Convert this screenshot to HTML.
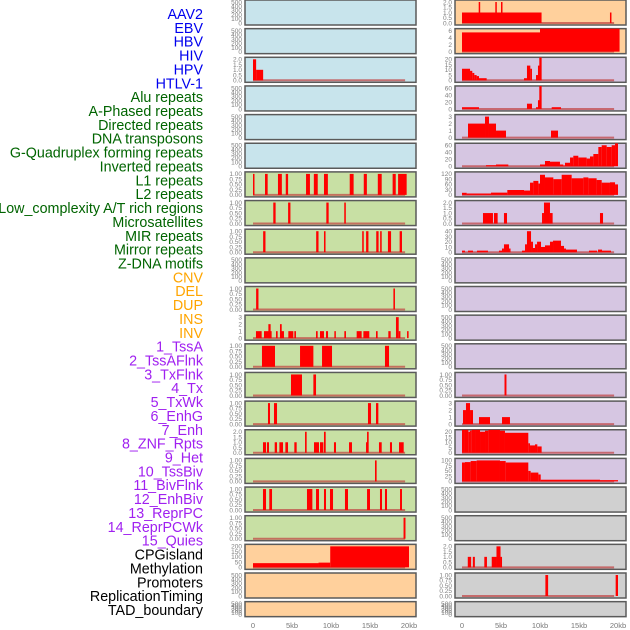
<!DOCTYPE html>
<html><head><meta charset="utf-8">
<style>
html,body{margin:0;padding:0;background:#fff;}
svg{display:block;font-family:"Liberation Sans",sans-serif;}
</style></head>
<body>
<svg id="chart" width="630" height="630" viewBox="0 0 630 630"></svg>
<script>
// ---- labels ----
const labelText = ["AAV2","EBV","HBV","HIV","HPV","HTLV-1","Alu repeats","A-Phased repeats","Directed repeats","DNA transposons","G-Quadruplex forming repeats","Inverted repeats","L1 repeats","L2 repeats","Low_complexity A/T rich regions","Microsatellites","MIR repeats","Mirror repeats","Z-DNA motifs","CNV","DEL","DUP","INS","INV","1_TssA","2_TssAFlnk","3_TxFlnk","4_Tx","5_TxWk","6_EnhG","7_Enh","8_ZNF_Rpts","9_Het","10_TssBiv","11_BivFlnk","12_EnhBiv","13_ReprPC","14_ReprPCWk","15_Quies","CPGisland","Methylation","Promoters","ReplicationTiming","TAD_boundary"];
const labelGroup = [0,0,0,0,0,0,1,1,1,1,1,1,1,1,1,1,1,1,1,2,2,2,2,2,3,3,3,3,3,3,3,3,3,3,3,3,3,3,3,4,4,4,4,4];
const groupColor = ["#0000ee","#006400","#ffa500","#a020f0","#000000"];

// ---- tick sets ----
const T500 = [0,100,200,300,400,500];
const T1 = [0,0.25,0.5,0.75,1.0];
const T2 = [0,0.5,1.0,1.5,2.0];
const T3 = [0,1,2,3];
const T6 = [0,2,4,6];
const T20 = [0,5,10,15,20];
const T60 = [0,20,40,60];
const T40 = [0,10,20,30,40];
const T120 = [0,30,60,90,120];
const T100 = [0,25,50,75,100];
const T200 = [0,50,100,150,200];

// ---- left column data [startKb, endKb, value] ----
const L_HIV = [[0,0.4,2],[0.4,1.3,1]];
const L_L1 = [[0,0.15,1],[1.54,1.88,1],[3.2,3.7,1],[4.2,4.5,1],[6.8,7.3,1],[7.8,8.3,1],[9.1,9.6,1],[12.4,12.9,1],[14.2,14.6,1],[16.0,16.5,1],[17.9,18.3,1],[18.6,19.7,1]];
const L_L2 = [[2.6,2.9,1],[4.5,4.8,1],[9.4,9.7,1],[11.7,11.9,1]];
const L_LC = [[1.3,1.6,1],[8.1,8.4,1],[9.1,9.3,1],[14.0,14.2,1],[14.5,14.8,1],[15.8,16.1,1],[16.3,16.5,1],[17.3,17.7,1],[18.8,19.1,1]];
const L_MIR = [[0.4,0.7,1],[18.0,18.2,1]];
const L_MIRROR = [[0.38,1.11,1],[1.41,2.39,1],[1.97,2.26,2],[2.95,3.16,1],[3.46,3.97,1],[3.46,3.68,2],[4.53,5.17,1],[5.3,5.51,1],[8.08,8.29,1],[8.59,9.1,1],[9.36,9.62,1],[10.43,10.6,1],[11.71,11.92,1],[13.29,13.93,1],[14.15,14.91,1],[15.77,15.98,1],[17.35,17.65,1],[18.33,18.68,3],[18.68,18.9,1],[19.75,19.95,1]];
const L_ZDNA = [[1.15,2.82,1],[6.03,7.74,1],[8.85,10.13,1],[16.92,17.44,1]];
const L_CNV = [[4.87,6.28,1],[7.74,8.08,1]];
const L_DEL = [[1.92,2.18,1],[2.69,3.08,1],[14.74,15.13,1],[15.77,16.07,1]];
const L_DUP = [[1.28,1.67,1],[1.79,2.05,1],[2.78,3.08,1],[3.38,3.85,1],[4.15,4.49,1],[5.3,5.6,1],[7.82,8.46,1],[8.59,9.02,1],[10.38,10.64,1],[12.31,12.69,1],[14.49,14.74,1],[16.15,16.5,1],[17.56,17.82,1],[18.72,19.32,1],[6.67,6.88,2],[9.1,9.32,2],[14.62,14.83,2]];
const L_INS = [[15.64,15.85,1]];
const L_INV = [[1.28,1.67,1],[2.09,2.44,1],[6.92,7.61,1],[8.08,8.46,1],[9.1,9.36,1],[9.87,10.26,1],[11.79,12.18,1],[14.62,15.0,1],[16.28,16.54,1],[16.92,17.18,1],[18.85,19.1,1]];
const L_TSSA = [[19.3,19.55,1]];
const L_CPG = [[0,8.4,40],[8.4,9.9,45],[9.9,20,200]];

// ---- right column data ----
const R_AAV2 = [[0,10.2,1],[2.14,2.26,2],[4.27,4.44,2],[5.0,5.17,2],[18.97,19.15,1]];
const R_EBV = [[0,10.0,5.5],[10.0,20.2,7]];
const R_HIV = [[0,1.03,11],[1.03,1.32,9],[1.32,1.58,7],[1.58,1.88,5],[1.88,2.18,4],[2.18,3.16,2],[7.95,8.33,2],[8.33,8.76,14],[8.76,8.97,11],[9.49,9.74,5],[9.74,9.91,14],[9.91,10.21,24]];
const R_HTLV = [[0,2.18,5],[8.33,8.97,15],[9.49,9.74,5],[9.74,9.91,25],[9.91,10.21,70],[11.5,12.69,5]];
const R_APH = [[0.77,2.95,2],[2.95,3.46,3],[3.46,4.36,2],[4.36,5.64,1],[11.41,12.31,1]];
const R_G4 = [[3.08,4.36,3],[4.36,5.94,5],[10.0,10.64,5],[10.64,11.28,15],[11.28,12.56,13],[12.56,12.99,5],[12.99,13.2,2],[13.2,13.85,10],[13.85,14.27,25],[14.27,14.91,30],[14.91,15.98,25],[15.98,16.41,22],[16.41,16.84,28],[16.84,17.48,35],[17.48,17.91,55],[17.91,18.55,60],[18.55,19.19,55],[19.19,19.62,60],[19.62,20,70]];
const R_INVR = [[0,0.6,12],[0.6,3.72,8],[3.72,5.81,13],[5.81,7.95,28],[7.95,8.72,25],[8.72,9.15,70],[9.15,9.79,80],[9.79,10.0,65],[10.0,10.64,115],[10.64,11.71,100],[11.71,12.78,90],[12.78,14.06,115],[14.06,15.56,95],[15.56,16.2,100],[16.2,17.26,95],[17.26,17.91,85],[17.91,18.97,70],[18.97,19.62,72],[19.62,20,60]];
const R_L1 = [[2.69,3.97,1],[4.1,4.57,1],[5.38,5.77,1],[10.26,10.51,1],[10.51,11.28,2],[11.28,11.62,1],[17.69,18.08,1]];
const R_L2 = [[0,0.38,3],[0.77,1.41,3],[1.92,3.33,3],[4.74,5.13,3],[5.13,5.38,7],[5.38,6.03,15],[6.03,6.15,7],[7.69,8.08,3],[8.08,8.33,15],[8.33,8.85,40],[8.85,9.1,20],[9.1,9.36,8],[9.36,9.62,15],[9.62,10.13,20],[10.13,10.64,10],[10.64,11.28,13],[11.28,11.67,20],[11.67,12.69,22],[12.69,13.08,12],[13.08,13.33,7],[13.33,14.74,5],[16.28,17.31,3],[17.44,17.95,5],[17.95,19.1,3]];
const R_TXFLNK = [[5.45,5.7,1]];
const R_TXWK = [[0.13,0.51,2],[0.51,1.03,3],[1.03,1.41,2],[2.18,3.59,1],[5.13,6.15,1]];
const R_ENHG = [[0,0.38,24],[0.38,0.81,22],[0.81,1.03,20],[1.03,1.24,21],[1.24,1.67,23],[1.67,2.31,22],[2.31,2.95,20],[2.95,3.38,21],[3.38,4.87,22],[4.87,5.51,21],[5.51,8.5,19],[8.5,8.72,9],[8.72,9.36,7],[9.36,9.66,8],[9.66,10.21,6]];
const R_ENH = [[0,0.38,90],[0.38,1.11,92],[1.11,1.88,97],[1.88,4.87,100],[4.87,5.6,97],[5.6,8.5,90],[8.5,8.8,50],[8.8,9.79,42],[9.79,10.09,33],[10.09,17.69,8],[17.69,20,6]];
const R_CPG = [[0.74,1.17,1],[1.39,1.65,1],[2.86,3.2,1],[3.81,4.42,1],[4.42,4.94,2],[4.94,5.1,1]];
const R_METH = [[10.69,11.04,1],[19.7,20.0,1]];

const BG = {b:"#c8e4ec",g:"#c8e0a4",o:"#ffd09c",p:"#d6c6e2",k:"#d0d0d0"};
const rows = [
 ["b",T500,null,"o",T2,R_AAV2],
 ["b",T500,null,"o",T6,R_EBV],
 ["b",T2,L_HIV,"p",T20,R_HIV],
 ["b",T500,null,"p",T60,R_HTLV],
 ["b",T500,null,"p",T3,R_APH],
 ["b",T500,null,"p",T60,R_G4],
 ["g",T1,L_L1,"p",T120,R_INVR],
 ["g",T1,L_L2,"p",T2,R_L1],
 ["g",T1,L_LC,"p",T40,R_L2],
 ["g",T500,null,"p",T500,null],
 ["g",T1,L_MIR,"p",T500,null],
 ["g",T3,L_MIRROR,"p",T500,null],
 ["g",T1,L_ZDNA,"p",T500,null],
 ["g",T1,L_CNV,"p",T1,R_TXFLNK],
 ["g",T1,L_DEL,"p",T3,R_TXWK],
 ["g",T2,L_DUP,"p",T20,R_ENHG],
 ["g",T1,L_INS,"p",T100,R_ENH],
 ["g",T1,L_INV,"k",T500,null],
 ["g",T1,L_TSSA,"k",T500,null],
 ["o",T200,L_CPG,"k",T2,R_CPG],
 ["o",T500,null,"k",T1,R_METH],
 ["o",T500,null,"k",T500,null]
];
const xTicks = [0,5,10,15,20];
const xTickLabels = ["0","5kb","10kb","15kb","20kb"];

const NS = "http://www.w3.org/2000/svg";
const svg = document.getElementById("chart");
function mk(tag, attrs, parent){
  const e = document.createElementNS(NS, tag);
  for (const k in attrs) e.setAttribute(k, attrs[k]);
  (parent||svg).appendChild(e);
  return e;
}
function fmt(v, ticks){
  const mx = ticks[ticks.length-1];
  if (mx===1) return v.toFixed(2);
  if (mx===2) return v.toFixed(1);
  return String(v);
}

labelText.forEach((t,i)=>{
  const el = mk("text",{x:203,y:19+i*13.86,"text-anchor":"end","font-size":"14.3",fill:groupColor[labelGroup[i]]});
  el.textContent = t;
  
  
});

const colX = [245,455];
const colW = 171;
const zeroX = [253,462];
const pxPerKb = 7.8;
function xScale(col, kb){ return zeroX[col] + kb*pxPerKb; }

rows.forEach((r,i)=>{
  const top = i*28.65;
  const h = (i===rows.length-1) ? 15 : 25;
  for (let c=0;c<2;c++){
    const bg = r[c*3], ticks = r[c*3+1], data = r[c*3+2];
    const g = mk("g",{});
    
    
    const y0 = top+h-2, y1 = top+2;
    const mx = ticks[ticks.length-1];
    const yScale = v => y0 - (Math.min(v,mx*1.2)/mx)*(y0-y1);
    const rect = mk("rect",{x:colX[c],y:top,width:colW,height:h,fill:BG[bg],stroke:"#5a5a5a","stroke-width":1.5},g);
    
    
    ticks.forEach(t=>{
      const tl = mk("text",{x:colX[c]-3,y:yScale(t)+2.3,"text-anchor":"end","font-size":"6.5",fill:"#808080"},g);
      tl.textContent = fmt(t,ticks);
      
      
    });
    if (data){
      const clip = "clip"+i+"_"+c;
      const cp = mk("clipPath",{id:clip},g);
      mk("rect",{x:colX[c],y:top,width:colW,height:h},cp);
      const bl = mk("line",{x1:xScale(c,0),x2:xScale(c,19.5),y1:y0,y2:y0,stroke:"#c04040","stroke-width":2,"stroke-opacity":0.7},g);
      
      
      data.forEach(d=>{
        const yy = yScale(d[2]);
        const b = mk("rect",{x:xScale(c,d[0]),y:Math.max(yy,top),width:Math.max(1.5,xScale(c,d[1])-xScale(c,d[0])),height:y0-Math.max(yy,top),fill:"#ff0000","clip-path":"url(#"+clip+")"},g);
        
        
      });
    }
  }
});

for (let c=0;c<2;c++){
  xTicks.forEach((t,k)=>{
    const tl = mk("text",{x:xScale(c,t),y:628,"text-anchor":"middle","font-size":"7.5",fill:"#777"});
    tl.textContent = xTickLabels[k];
    
    
  });
}
</script>
</body></html>
